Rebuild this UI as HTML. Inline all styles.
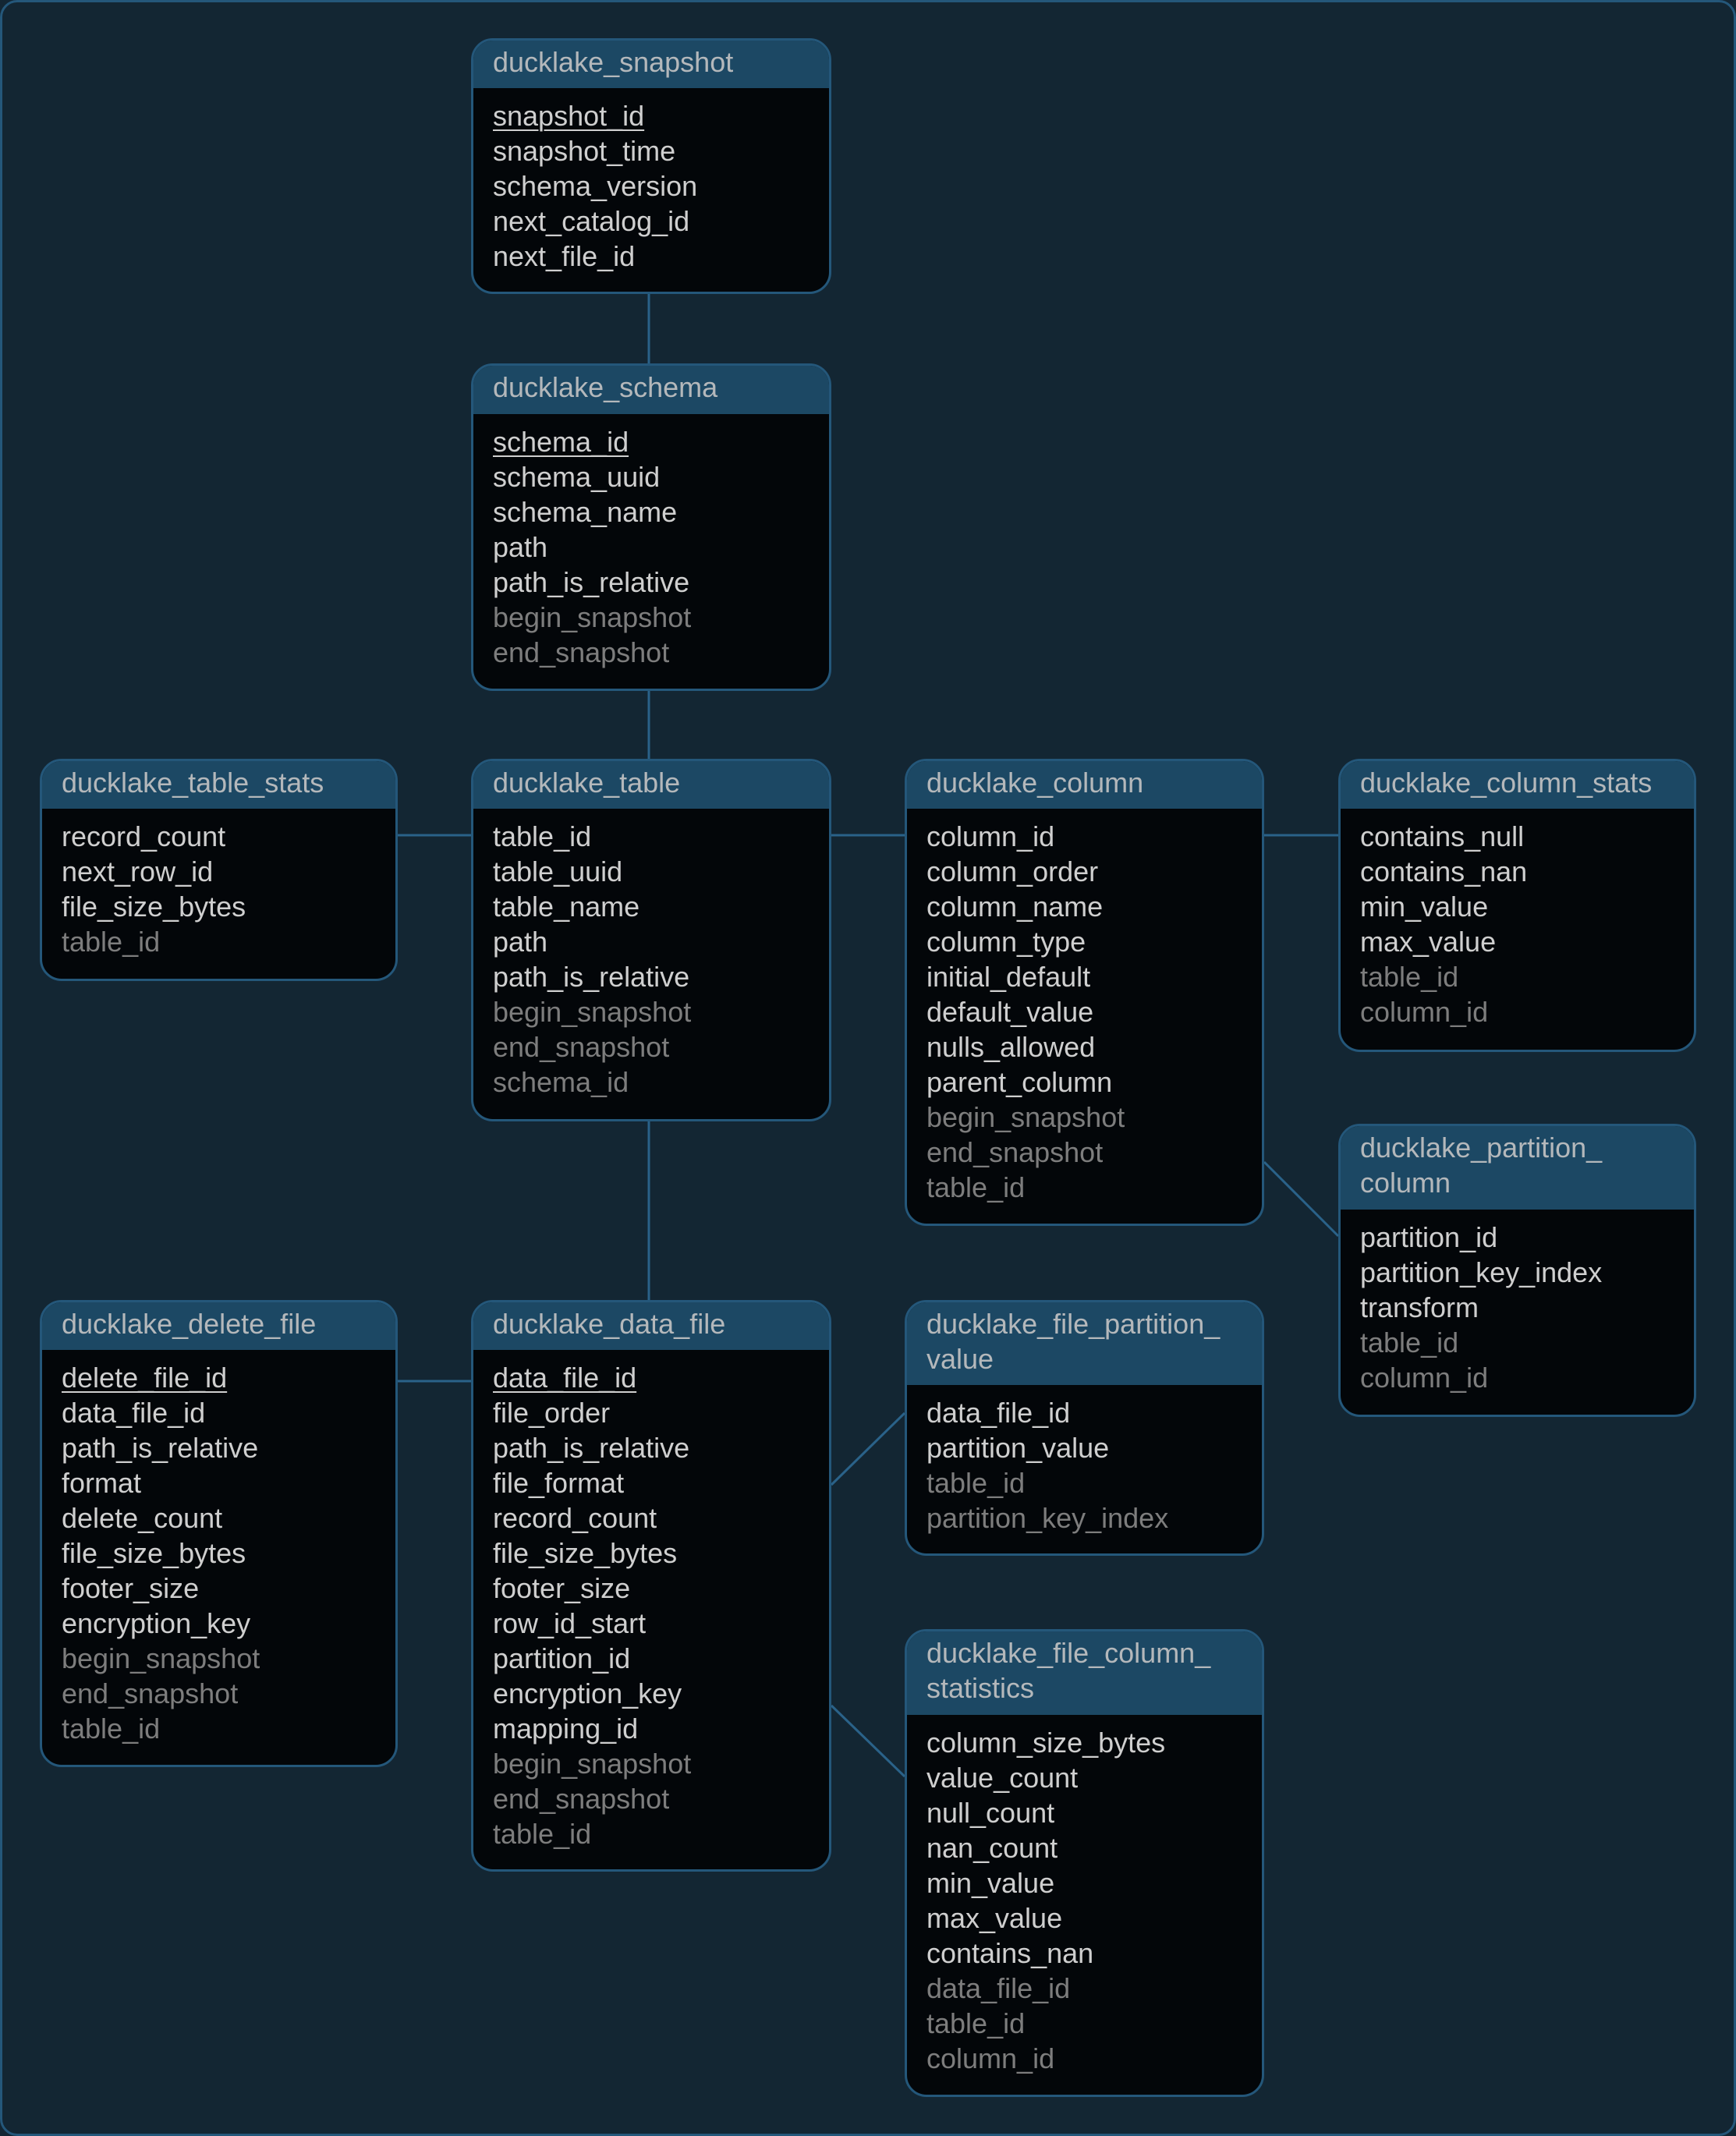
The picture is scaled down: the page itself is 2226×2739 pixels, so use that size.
<!DOCTYPE html>
<html><head><meta charset="utf-8"><style>
html,body{margin:0;padding:0;background:#132633;}
#f{position:relative;width:2226px;height:2739px;overflow:hidden;background:#132633;}
#fr{position:absolute;left:0;top:0;width:2226px;height:2739px;box-sizing:border-box;border:3px solid #24577a;border-radius:22px;}
.b{position:absolute;box-sizing:border-box;border:3px solid #24577a;border-radius:28px;background:#030609;overflow:hidden;font-family:"Liberation Sans",sans-serif;font-size:36px;}
.h{background:#1c4864;color:#b4b8bb;padding:5px 0 0 25px;box-sizing:border-box;line-height:45px;}
.r{color:#cfcfcf;padding:13px 0 0 25px;line-height:45px;}
.m{color:#7d7d7d}
u{text-decoration-thickness:2px;text-underline-offset:5px}
svg{position:absolute;left:0;top:0}
</style></head><body><div id="f">
<div id="fr"></div>
<svg width="2226" height="2739" stroke="#2a6289" stroke-width="3" fill="none">
<line x1="832" y1="377" x2="832" y2="466"/>
<line x1="832" y1="886" x2="832" y2="973"/>
<line x1="510" y1="1071" x2="604" y2="1071"/>
<line x1="1066" y1="1071" x2="1160" y2="1071"/>
<line x1="1621" y1="1071" x2="1716" y2="1071"/>
<line x1="1621" y1="1490" x2="1716" y2="1585"/>
<line x1="832" y1="1438" x2="832" y2="1667"/>
<line x1="510" y1="1771" x2="604" y2="1771"/>
<line x1="1066" y1="1904" x2="1160" y2="1812"/>
<line x1="1066" y1="2187" x2="1160" y2="2278"/>
</svg>

<div class="b" style="left:604px;top:49px;width:462px;height:328px"><div class="h" style="height:61px">ducklake_snapshot</div><div class="r"><u>snapshot_id</u><br>snapshot_time<br>schema_version<br>next_catalog_id<br>next_file_id</div></div>

<div class="b" style="left:604px;top:466px;width:462px;height:420px"><div class="h" style="height:62px">ducklake_schema</div><div class="r"><u>schema_id</u><br>schema_uuid<br>schema_name<br>path<br>path_is_relative<br><span class="m">begin_snapshot<br>end_snapshot</span></div></div>

<div class="b" style="left:51px;top:973px;width:459px;height:285px"><div class="h" style="height:61px">ducklake_table_stats</div><div class="r">record_count<br>next_row_id<br>file_size_bytes<br><span class="m">table_id</span></div></div>

<div class="b" style="left:604px;top:973px;width:462px;height:465px"><div class="h" style="height:61px">ducklake_table</div><div class="r">table_id<br>table_uuid<br>table_name<br>path<br>path_is_relative<br><span class="m">begin_snapshot<br>end_snapshot<br>schema_id</span></div></div>

<div class="b" style="left:1160px;top:973px;width:461px;height:599px"><div class="h" style="height:61px">ducklake_column</div><div class="r">column_id<br>column_order<br>column_name<br>column_type<br>initial_default<br>default_value<br>nulls_allowed<br>parent_column<br><span class="m">begin_snapshot<br>end_snapshot<br>table_id</span></div></div>

<div class="b" style="left:1716px;top:973px;width:459px;height:376px"><div class="h" style="height:61px">ducklake_column_stats</div><div class="r">contains_null<br>contains_nan<br>min_value<br>max_value<br><span class="m">table_id<br>column_id</span></div></div>

<div class="b" style="left:1716px;top:1441px;width:459px;height:376px"><div class="h" style="height:107px">ducklake_partition_<br>column</div><div class="r">partition_id<br>partition_key_index<br>transform<br><span class="m">table_id<br>column_id</span></div></div>

<div class="b" style="left:51px;top:1667px;width:459px;height:599px"><div class="h" style="height:61px">ducklake_delete_file</div><div class="r"><u>delete_file_id</u><br>data_file_id<br>path_is_relative<br>format<br>delete_count<br>file_size_bytes<br>footer_size<br>encryption_key<br><span class="m">begin_snapshot<br>end_snapshot<br>table_id</span></div></div>

<div class="b" style="left:604px;top:1667px;width:462px;height:733px"><div class="h" style="height:61px">ducklake_data_file</div><div class="r"><u>data_file_id</u><br>file_order<br>path_is_relative<br>file_format<br>record_count<br>file_size_bytes<br>footer_size<br>row_id_start<br>partition_id<br>encryption_key<br>mapping_id<br><span class="m">begin_snapshot<br>end_snapshot<br>table_id</span></div></div>

<div class="b" style="left:1160px;top:1667px;width:461px;height:328px"><div class="h" style="height:106px">ducklake_file_partition_<br>value</div><div class="r">data_file_id<br>partition_value<br><span class="m">table_id<br>partition_key_index</span></div></div>

<div class="b" style="left:1160px;top:2089px;width:461px;height:600px"><div class="h" style="height:107px">ducklake_file_column_<br>statistics</div><div class="r">column_size_bytes<br>value_count<br>null_count<br>nan_count<br>min_value<br>max_value<br>contains_nan<br><span class="m">data_file_id<br>table_id<br>column_id</span></div></div>

</div></body></html>
